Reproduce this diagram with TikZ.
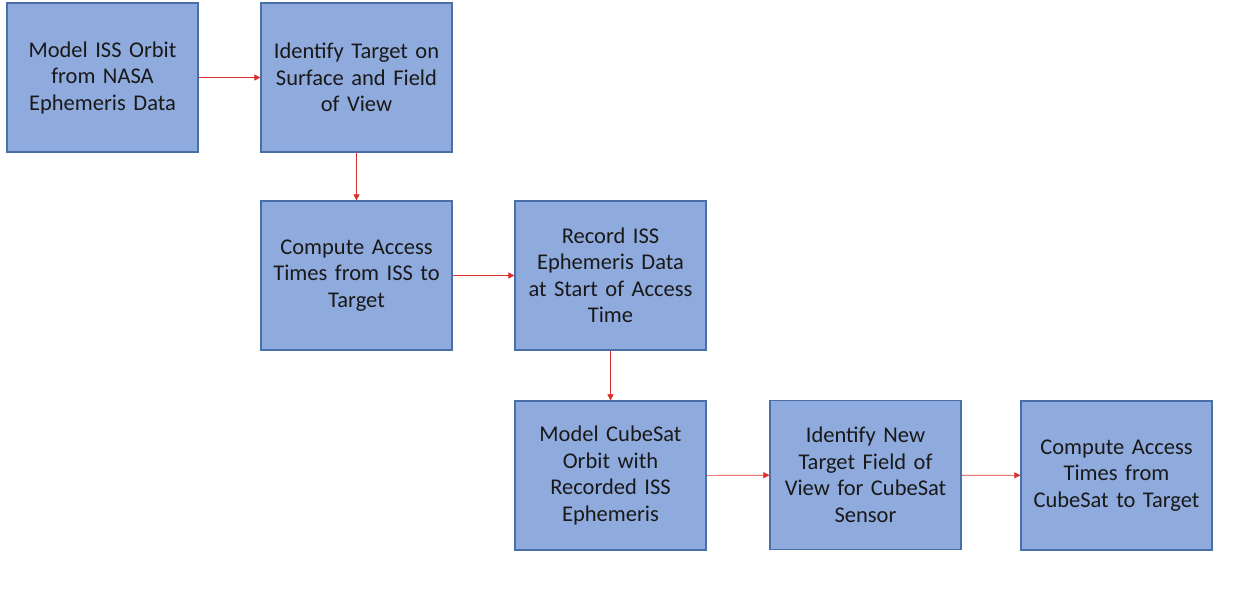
\documentclass[tikz,border=0pt]{standalone}
\usepackage{fontspec}
\setmainfont{Carlito}
\usetikzlibrary{arrows.meta}
\definecolor{boxfill}{HTML}{8FAADC}
\definecolor{boxdraw}{HTML}{4A6FA8}
\definecolor{arr}{HTML}{D9302C}
\begin{document}
\begin{tikzpicture}[x=1pt,y=-1pt,
  procbox/.style={draw=boxdraw,line width=1.2pt,fill=boxfill,minimum width=191pt,minimum height=149pt,
    inner sep=0pt,text width=186pt,align=center,font=\fontsize{22.5}{26.5}\selectfont,text=black!90},
  flow/.style={draw=arr,line width=0.6pt,-{Triangle[length=6pt,width=6pt]}}]
\useasboundingbox (0,0) rectangle (1241,592);
\node[procbox] (b1) at (102.5,77.5) {Model ISS Orbit\\from NASA\\Ephemeris Data};
\node[procbox] (b2) at (356.5,77.5) {Identify Target on\\Surface and Field\\of View};
\node[procbox] (b3) at (356.5,275.5) {Compute Access\\Times from ISS to\\Target};
\node[procbox] (b4) at (610.5,275.5) {Record ISS\\Ephemeris Data\\at Start of Access\\Time};
\node[procbox] (b5) at (610.5,475.5) {Model CubeSat\\Orbit with\\Recorded ISS\\Ephemeris};
\node[procbox] (b6) at (865.5,475) {Identify New\\Target Field of\\View for CubeSat\\Sensor};
\node[procbox] (b7) at (1116.5,475.5) {Compute Access\\Times from\\CubeSat to Target};
\draw[flow] (b1) -- (b2);
\draw[flow] (b2) -- (b3);
\draw[flow] (b3) -- (b4);
\draw[flow] (b4) -- (b5);
\draw[flow] (b5) -- (b6);
\draw[flow] (b6) -- (b7);
\end{tikzpicture}
\end{document}
